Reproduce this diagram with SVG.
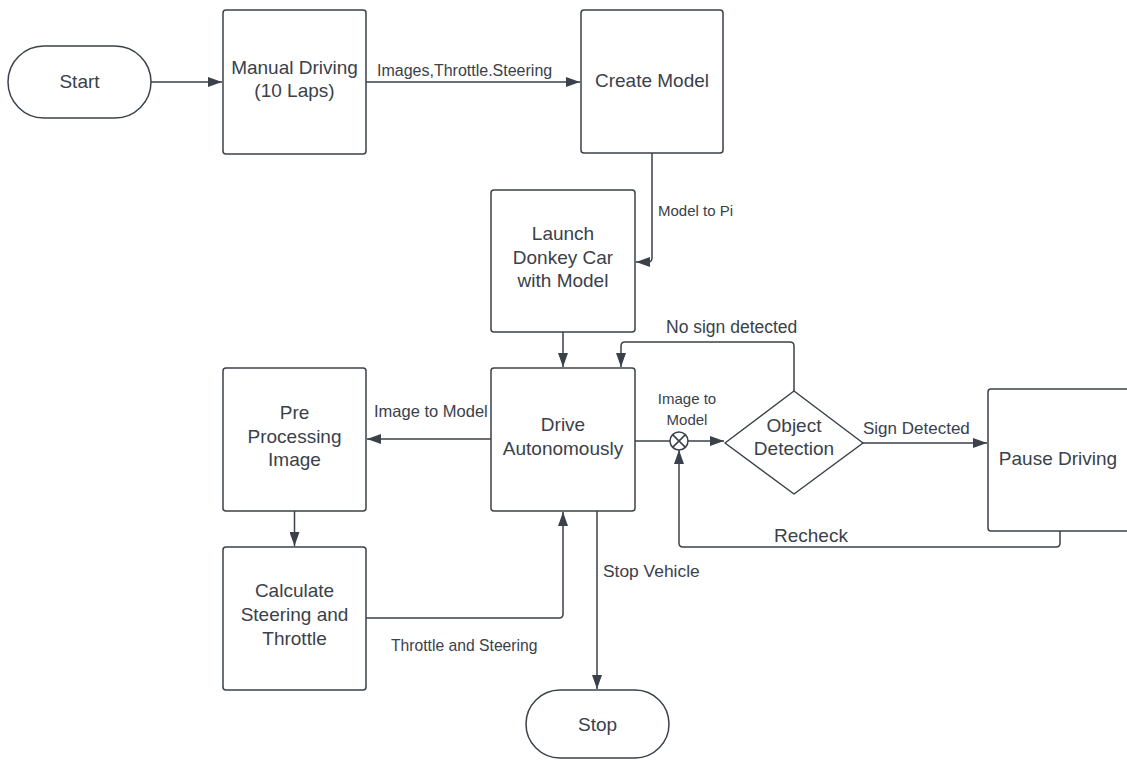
<svg xmlns="http://www.w3.org/2000/svg" width="1127" height="760" viewBox="0 0 1127 760">
  <style>
    .shape { fill: #ffffff; stroke: #3a414a; stroke-width: 1.5; }
    .wire { fill: none; stroke: #3a414a; stroke-width: 1.5; }
    .node-text { font-family: "Liberation Sans", Arial, sans-serif; font-size: 19px; fill: #3a414a; text-anchor: middle; }
    .label { font-family: "Liberation Sans", Arial, sans-serif; fill: #3a414a; }
  </style>
  <defs>
    <marker id="arrow" viewBox="0 0 14 10" refX="14" refY="5" markerWidth="14" markerHeight="10" markerUnits="userSpaceOnUse" orient="auto">
      <path d="M0,0 L14,5 L0,10 Z" fill="#3a414a"/>
    </marker>
  </defs>
  <rect width="1127" height="760" fill="#ffffff"/>

  <!-- connectors -->
  <g id="connectors">
    <line class="wire" x1="151" y1="82" x2="222" y2="82" marker-end="url(#arrow)"/>
    <line class="wire" x1="366" y1="82" x2="580" y2="82" marker-end="url(#arrow)"/>
    <path class="wire" d="M652,153 V258 Q652,262 648,262 H636" marker-end="url(#arrow)"/>
    <line class="wire" x1="563" y1="332" x2="563" y2="367" marker-end="url(#arrow)"/>
    <path class="wire" d="M794,391 V346 Q794,342 790,342 H625 Q621,342 621,346 V367" marker-end="url(#arrow)"/>
    <line class="wire" x1="491" y1="439" x2="367" y2="439" marker-end="url(#arrow)"/>
    <line class="wire" x1="294.5" y1="511" x2="294.5" y2="546" marker-end="url(#arrow)"/>
    <path class="wire" d="M366,618 H559 Q563,618 563,614 V512" marker-end="url(#arrow)"/>
    <line class="wire" x1="597" y1="511" x2="597" y2="689" marker-end="url(#arrow)"/>
    <line class="wire" x1="635" y1="441" x2="670" y2="441"/>
    <line class="wire" x1="688" y1="441" x2="724" y2="441" marker-end="url(#arrow)"/>
    <line class="wire" x1="863" y1="443" x2="987" y2="443" marker-end="url(#arrow)"/>
    <path class="wire" d="M1060,531 V543 Q1060,547 1056,547 H683 Q679,547 679,543 V450" marker-end="url(#arrow)"/>
    <!-- summing junction -->
    <g id="junction">
      <circle class="shape" cx="679" cy="441" r="9"/>
      <line class="wire" x1="672.6" y1="434.6" x2="685.4" y2="447.4"/>
      <line class="wire" x1="685.4" y1="434.6" x2="672.6" y2="447.4"/>
    </g>
    <text class="label" x="377" y="76" font-size="16">Images,Throttle.Steering</text>
    <text class="label" x="658" y="216" font-size="15">Model to Pi</text>
    <text class="label" x="666" y="333" font-size="17.5">No sign detected</text>
    <text class="label" x="687" y="404" font-size="15" text-anchor="middle">Image to</text>
    <text class="label" x="687" y="425" font-size="15" text-anchor="middle">Model</text>
    <text class="label" x="863" y="434" font-size="17">Sign Detected</text>
    <text class="label" x="774" y="542" font-size="19">Recheck</text>
    <text class="label" x="374" y="417" font-size="16.5">Image to Model</text>
    <text class="label" x="391" y="651" font-size="15.7">Throttle and Steering</text>
    <text class="label" x="603" y="577" font-size="17.4">Stop Vehicle</text>
  </g>

  <!-- nodes -->
  <g id="start">
    <rect class="shape" x="8" y="46" width="143" height="72" rx="36" ry="36"/>
    <text class="node-text" x="79.5" y="88">Start</text>
  </g>
  <g id="manual-driving">
    <rect class="shape" x="223" y="10" width="143" height="144" rx="3"/>
    <text class="node-text" x="294.5" y="74">Manual Driving</text>
    <text class="node-text" x="294.5" y="97">(10 Laps)</text>
  </g>
  <g id="create-model">
    <rect class="shape" x="581" y="10" width="142" height="143" rx="3"/>
    <text class="node-text" x="652" y="87">Create Model</text>
  </g>
  <g id="launch">
    <rect class="shape" x="491" y="190" width="144" height="142" rx="3"/>
    <text class="node-text" x="563" y="240">Launch</text>
    <text class="node-text" x="563" y="263.5">Donkey Car</text>
    <text class="node-text" x="563" y="287">with Model</text>
  </g>
  <g id="drive-autonomously">
    <rect class="shape" x="491" y="368" width="144" height="143" rx="3"/>
    <text class="node-text" x="563" y="431">Drive</text>
    <text class="node-text" x="563" y="455">Autonomously</text>
  </g>
  <g id="pre-processing">
    <rect class="shape" x="223" y="368" width="143" height="143" rx="3"/>
    <text class="node-text" x="294.5" y="418.5">Pre</text>
    <text class="node-text" x="294.5" y="443">Processing</text>
    <text class="node-text" x="294.5" y="466">Image</text>
  </g>
  <g id="calculate">
    <rect class="shape" x="223" y="547" width="143" height="143" rx="3"/>
    <text class="node-text" x="294.5" y="597">Calculate</text>
    <text class="node-text" x="294.5" y="621">Steering and</text>
    <text class="node-text" x="294.5" y="644.5">Throttle</text>
  </g>
  <g id="object-detection">
    <path class="shape" d="M794,391 L863,443 L794,494 L725,443 Z" stroke-linejoin="round"/>
    <text class="node-text" x="794" y="432">Object</text>
    <text class="node-text" x="794" y="455">Detection</text>
  </g>
  <g id="pause-driving">
    <rect class="shape" x="988" y="389" width="143" height="142" rx="3"/>
    <text class="node-text" x="1058" y="464.5">Pause Driving</text>
  </g>
  <g id="stop">
    <rect class="shape" x="526" y="690" width="143" height="68" rx="34" ry="34"/>
    <text class="node-text" x="597.5" y="731">Stop</text>
  </g>
</svg>
